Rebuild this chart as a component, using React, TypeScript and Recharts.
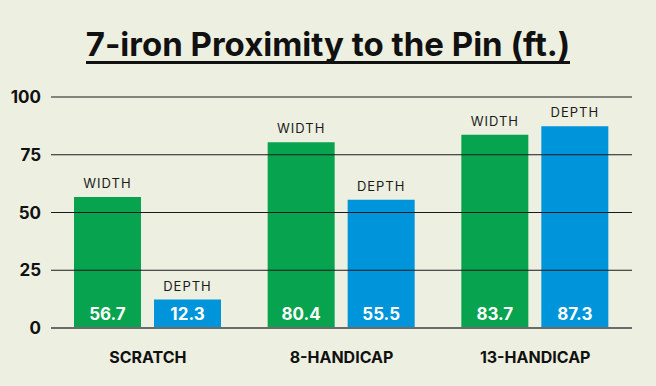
import { BarChart, Bar, XAxis, YAxis, ReferenceLine, LabelList } from 'recharts';

const categories = ['SCRATCH', '8-HANDICAP', '13-HANDICAP'];
const widthValues = [56.7, 80.4, 83.7];
const depthValues = [12.3, 55.5, 87.3];
const yTicks = [0, 25, 50, 75, 100];
const gridLines = [25, 50, 75, 100];

const BG = '#EDEFE0';
const GREEN = '#08A34E';
const BLUE = '#0095DA';
const FONT = 'Inter, "Noto Sans", sans-serif';

const data = categories.map((name, i) => ({
  name,
  width: widthValues[i],
  depth: depthValues[i],
}));

// value printed in white near the bottom of each bar
function InsideValue(props: any) {
  const { x, y, width, height, value } = props;
  return (
    <text
      x={x + width / 2}
      y={y + height - 8}
      textAnchor="middle"
      fill="#fff"
      fontSize={17}
      fontWeight={700}
      fontFamily={FONT}
    >
      {Number(value).toFixed(1)}
    </text>
  );
}

function topLabel(text: string) {
  return function TopLabel(props: any) {
    const { x, y, width } = props;
    return (
      <text
        x={x + width / 2}
        y={y - 9}
        textAnchor="middle"
        fill="#1b1b1b"
        fontSize={13}
        letterSpacing={1}
        fontFamily={FONT}
      >
        {text}
      </text>
    );
  };
}

export default function App() {
  return (
    <div
      style={{
        position: 'fixed',
        left: 0,
        top: 0,
        width: 656,
        height: 386,
        background: BG,
        fontFamily: FONT,
      }}
    >
      <div
        style={{
          position: 'absolute',
          top: 27,
          left: 0,
          width: 656,
          textAlign: 'center',
        }}
      >
        <span
          style={{
            display: 'inline-block',
            fontSize: 33,
            fontWeight: 700,
            color: '#111',
            lineHeight: '34px',
            borderBottom: '3px solid #111',
            paddingBottom: 0,
            letterSpacing: 0,
          }}
        >
          7-iron Proximity to the Pin (ft.)
        </span>
      </div>
      <BarChart
        width={656}
        height={386}
        data={data}
        margin={{ top: 97, right: 24, left: 8, bottom: 28 }}
        barSize={67}
        barGap={13}
      >
        <XAxis
          dataKey="name"
          height={30}
          axisLine={{ stroke: '#6b6b6b', strokeWidth: 2 }}
          tickLine={false}
          tick={{ fontSize: 16, fontWeight: 700, fill: '#111', fontFamily: FONT }}
          dy={16}
        />
        <YAxis
          domain={[0, 100]}
          ticks={yTicks}
          width={43}
          axisLine={false}
          tickLine={false}
          tick={{ fontSize: 17, fontWeight: 700, fill: '#111', fontFamily: FONT }}
          dx={-2}
        />
        <Bar dataKey="width" fill={GREEN} isAnimationActive={false}>
          <LabelList dataKey="width" content={InsideValue} />
          <LabelList dataKey="width" content={topLabel('WIDTH')} />
        </Bar>
        <Bar dataKey="depth" fill={BLUE} isAnimationActive={false}>
          <LabelList dataKey="depth" content={InsideValue} />
          <LabelList dataKey="depth" content={topLabel('DEPTH')} />
        </Bar>
        {gridLines.map((v) => (
          <ReferenceLine key={v} y={v} stroke="#1a1a1a" strokeWidth={1} />
        ))}
      </BarChart>
    </div>
  );
}
